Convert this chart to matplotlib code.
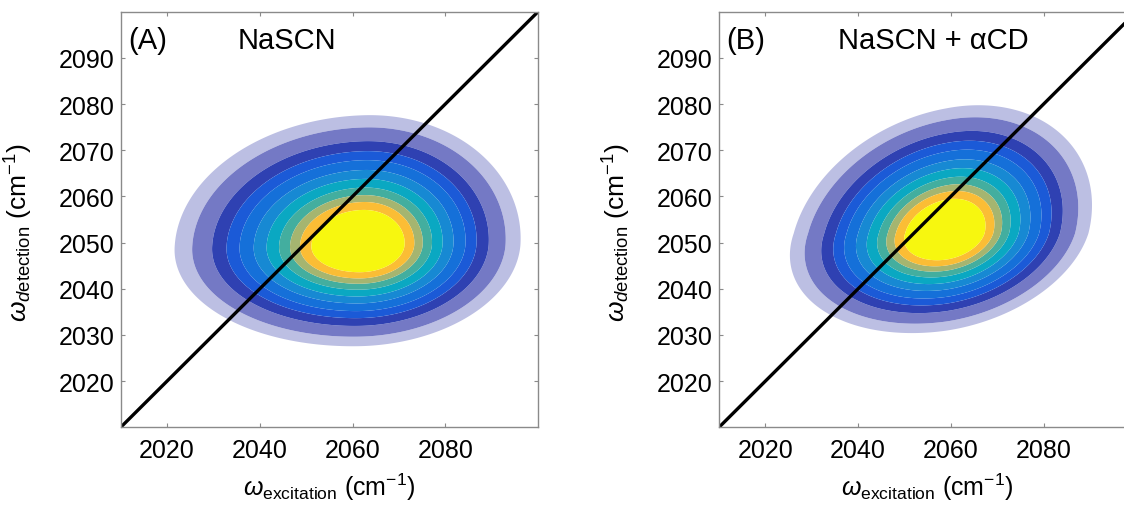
import numpy as np
import matplotlib
matplotlib.use("Agg")
import matplotlib.pyplot as plt

plt.rcParams['font.family'] = ['Liberation Sans', 'DejaVu Sans']
plt.rcParams['mathtext.fontset'] = 'custom'
plt.rcParams['mathtext.rm'] = 'Liberation Sans'
plt.rcParams['mathtext.it'] = 'Liberation Sans:italic'

# ---- data ----
axis_range = [2010, 2100]
x_ticks = [2020, 2040, 2060, 2080]
y_ticks = [2020, 2030, 2040, 2050, 2060, 2070, 2080, 2090]
diagonal = [2010, 2100]

panel_tags = ["(A)", "(B)"]
panel_titles = ["NaSCN", "NaSCN + \u03b1CD"]

# peak centre (excitation, detection) in cm-1
peak_x = [2062.0, 2059.0]
peak_y = [2049.5, 2052.0]
# half-widths (cm-1) of the peak on its left / right / upper / lower side
width_left = [23.0, 19.2]
width_right = [19.5, 17.9]
width_up = [16.0, 15.8]
width_down = [12.5, 12.3]
# diagonal correlation (tilt) of the peak
tilt = [0.05, 0.22]

# contour levels (fraction of peak) and fill colours
levels = [0.214, 0.282, 0.373, 0.447, 0.518, 0.598, 0.671, 0.740, 0.797, 0.845, 0.894, 1.01]
fill_colors = ['#bcbfe3', '#7479c5', '#2f41b2', '#1b5ad7', '#1570d9', '#1789d3',
               '#0aa8c2', '#43ae9f', '#a5b570', '#fbbd35', '#f7f70f']


def spectrum(i, X, Y):
    dx = X - peak_x[i]
    dy = Y - peak_y[i]
    sx = np.where(dx < 0, width_left[i], width_right[i])
    sy = np.where(dy < 0, width_down[i], width_up[i])
    u = dx / sx
    v = dy / sy
    r = tilt[i]
    d2 = (u * u - 2 * r * u * v + v * v) / (1 - r * r)
    return np.exp(-0.5 * d2)


fig = plt.figure(figsize=(11.24, 5.06), dpi=100)
lefts = [0.1074, 0.6397]
grid = np.linspace(axis_range[0], axis_range[1], 451)
X, Y = np.meshgrid(grid, grid)

for i in range(2):
    ax = fig.add_axes([lefts[i], 0.1536, 0.3713, 0.8213])
    Z = spectrum(i, X, Y)
    ax.contourf(X, Y, Z, levels=levels, colors=fill_colors, antialiased=True)
    ax.plot(diagonal, diagonal, color='black', lw=2.4, solid_capstyle='butt')
    ax.set_xlim(axis_range)
    ax.set_ylim(axis_range)
    ax.set_xticks(x_ticks)
    ax.set_yticks(y_ticks)
    ax.tick_params(direction='in', top=True, right=True, length=3, width=0.8,
                   color='#8a8a8a', labelsize=18, labelcolor='black')
    ax.tick_params(axis='y', pad=4.5)
    ax.tick_params(axis='x', pad=8)
    for s in ax.spines.values():
        s.set_color('#8a8a8a')
        s.set_linewidth(1.0)
    ax.set_xlabel(r'$\omega_{\mathrm{excitation}}$ (cm$^{-1}$)', fontsize=18)
    ax.set_ylabel(r'$\omega_{\mathit{d}\mathrm{etection}}$ (cm$^{-1}$)', fontsize=19)
    ax.xaxis.set_label_coords(0.5, -0.105)
    ax.yaxis.set_label_coords(-0.205, 0.47)
    ax.text(0.017, 0.932, panel_tags[i], transform=ax.transAxes, fontsize=21,
            ha='left', va='center')
    ax.text([0.399, 0.513][i], 0.932, panel_titles[i], transform=ax.transAxes,
            fontsize=21, ha='center', va='center')

fig.savefig('out.png', dpi=100)
